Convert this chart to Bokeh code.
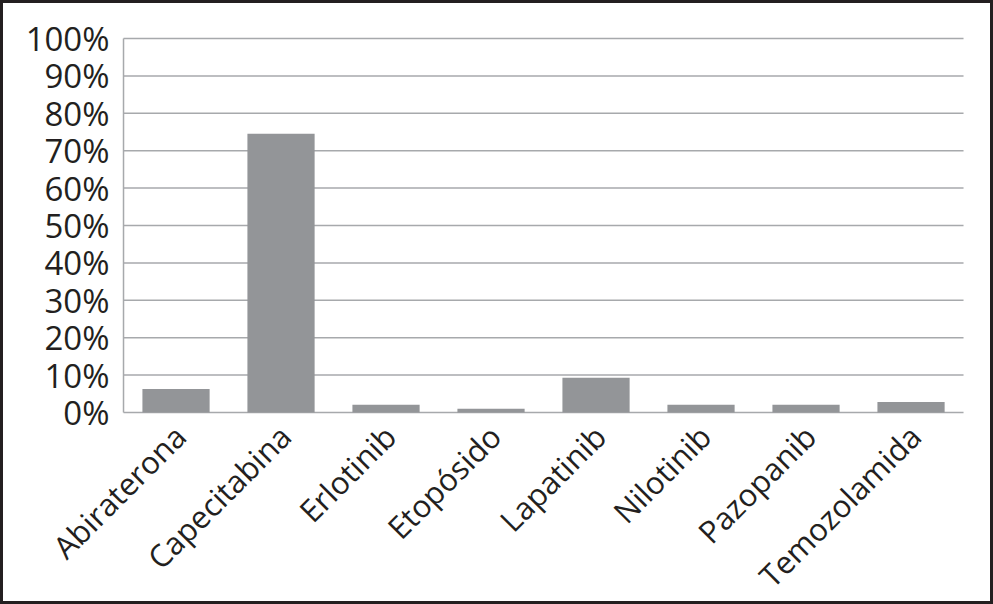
import math
import numpy as np
from bokeh.plotting import figure
from bokeh.models import ColumnDataSource, Range1d
from bokeh.core.properties import value
from bokeh.embed import file_html
from bokeh.resources import INLINE

drugs = ["Abiraterona", "Capecitabina", "Erlotinib", "Etopósido", "Lapatinib",
         "Nilotinib", "Pazopanib", "Temozolamida"]
shares = [0.063, 0.745, 0.021, 0.010, 0.093, 0.021, 0.021, 0.028]
y_ticks = [0.0, 0.1, 0.2, 0.3, 0.4, 0.5, 0.6, 0.7, 0.8, 0.9, 1.0]
y_tick_labels = ["0%", "10%", "20%", "30%", "40%", "50%", "60%", "70%", "80%", "90%", "100%"]

FONT = "Open Sans"
TXT = "#231f20"
GRID = "#a7a9ac"

n = len(drugs)
pos = np.arange(n)
left_edge = -0.5
right_edge = n - 0.5

src = ColumnDataSource(dict(x=pos, drug=drugs, share=shares, base=[0.0] * n))
tick_src = ColumnDataSource(dict(y=y_ticks, lab=y_tick_labels,
                                 x0=[left_edge] * len(y_ticks),
                                 x1=[right_edge] * len(y_ticks)))

p = figure(x_range=Range1d(-1.643, 7.814), y_range=Range1d(-0.5214, 1.0936),
           width=987, height=598, output_backend="svg", toolbar_location=None,
           min_border_left=0, min_border_right=0, min_border_top=0,
           min_border_bottom=0)
p.styles = {"border": "3px solid #231f20", "box-sizing": "content-box"}
p.outline_line_color = None
p.xaxis.visible = False
p.yaxis.visible = False
p.grid.visible = False

# horizontal gridlines across the category span
p.segment(x0="x0", x1="x1", y0="y", y1="y", source=tick_src,
          line_color=GRID, line_width=1.5)
# value axis line
p.segment(x0=left_edge, x1=left_edge, y0=y_ticks[0], y1=y_ticks[-1],
          line_color=GRID, line_width=1.5)

p.vbar(x="x", top="share", width=0.64, source=src,
       fill_color="#939598", line_color=None)

# value tick labels
p.text(x=left_edge, y="y", text="lab", source=tick_src,
       text_align="right", text_baseline="middle", x_offset=-14,
       text_font=value(FONT), text_font_size=value("33px"), text_color=TXT)

# category labels, rotated 45 degrees
p.text(x="x", y="base", text="drug", source=src,
       angle=math.pi / 4, text_align="right", text_baseline="middle",
       x_offset=4, y_offset=18,
       text_font=value(FONT), text_font_size=value("31px"), text_color=TXT)

open("out.html", "w").write(file_html(p, INLINE))
